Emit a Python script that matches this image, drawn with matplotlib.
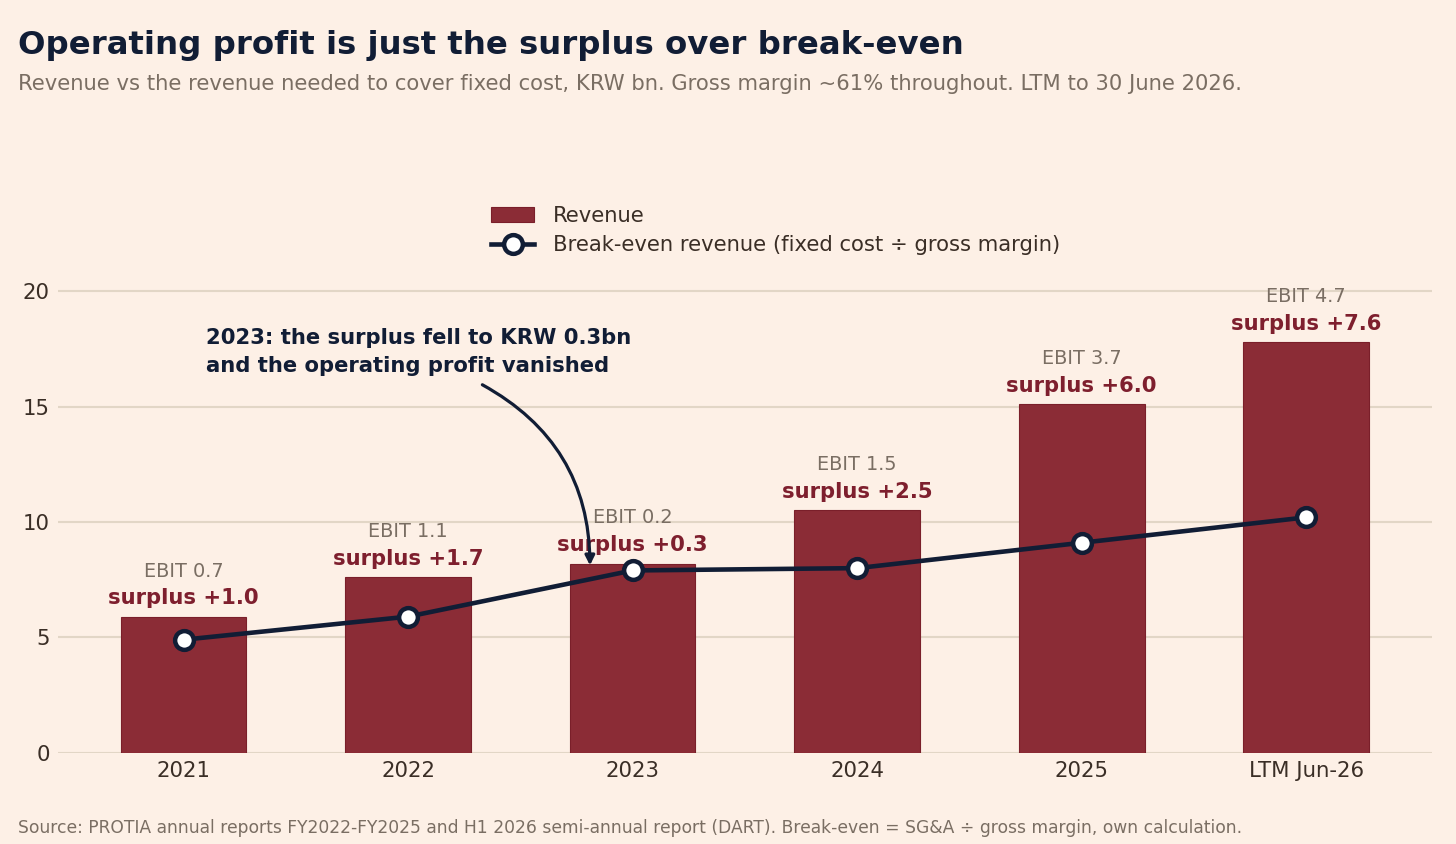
import matplotlib
matplotlib.use("Agg")
import matplotlib.pyplot as plt
import numpy as np

# values in KRW bn
periods = ["2021", "2022", "2023", "2024", "2025", "LTM Jun-26"]
revenue = [5.9, 7.6, 8.2, 10.5, 15.1, 17.8]
breakeven = [4.9, 5.9, 7.9, 8.0, 9.1, 10.2]
ebit = [0.7, 1.1, 0.2, 1.5, 3.7, 4.7]

BG = "#FDF0E6"
RED = "#8B2C36"
NAVY = "#111D35"
GREY = "#7A6E63"
DARK = "#3A2E26"
GRID = "#E2D6C6"

plt.rcParams["font.family"] = ["DejaVu Sans"]

fig = plt.figure(figsize=(14.56, 8.44), dpi=100, facecolor=BG)
ax = fig.add_axes([0.040, 0.108, 0.9432, 0.569])
ax.set_facecolor(BG)

x = np.arange(len(periods))
bars = ax.bar(x, revenue, width=0.56, color=RED, edgecolor="#7A1F2A", linewidth=0.8,
              label="Revenue", zorder=2)
line, = ax.plot(x, breakeven, color=NAVY, lw=3.3, marker="o", ms=13.5, mfc="white",
                mec=NAVY, mew=3.2, label="Break-even revenue (fixed cost \u00f7 gross margin)",
                zorder=4)

for xi, r, b, e in zip(x, revenue, breakeven, ebit):
    ax.annotate(f"surplus +{r - b:.1f}", (xi, r), xytext=(0, 6), textcoords="offset points",
                ha="center", va="bottom", fontsize=15.2, fontweight="bold", color="#7E1F2E",
                zorder=5)
    ax.annotate(f"EBIT {e:.1f}", (xi, r), xytext=(0, 26), textcoords="offset points",
                ha="center", va="bottom", fontsize=13.9, color=GREY, zorder=5)

ax.text(0.10, 18.4, "2023: the surplus fell to KRW 0.3bn\nand the operating profit vanished",
        ha="left", va="top", fontsize=15.2, fontweight="bold", color=NAVY, linespacing=1.5)
ax.annotate("", xy=(1.81, breakeven[2] + 0.1), xytext=(1.32, 16.0),
            arrowprops=dict(arrowstyle="-|>", color=NAVY, lw=2.3, mutation_scale=14,
                            connectionstyle="arc3,rad=-0.3"), zorder=6)

ax.set_xticks(x)
ax.set_xticklabels(periods)
ax.set_ylim(0, 20.8)
ax.set_yticks([0, 5, 10, 15, 20])
ax.yaxis.grid(True, color=GRID, lw=1.5, zorder=0)
ax.set_axisbelow(True)
ax.tick_params(axis="both", length=0, labelsize=15.3, labelcolor=DARK)
ax.tick_params(axis="y", pad=6)
ax.tick_params(axis="x", pad=6)
for s in ax.spines.values():
    s.set_visible(False)

fig.legend([bars, line], [bars.get_label(), line.get_label()], loc="upper left",
           bbox_to_anchor=(0.3245, 0.779), frameon=False, fontsize=15.2,
           labelcolor=DARK, handlelength=2.0, handletextpad=0.9, labelspacing=0.45)

fig.text(0.0124, 0.946, "Operating profit is just the surplus over break-even", fontsize=23.3,
         fontweight="bold", color=NAVY, ha="left", va="center")
fig.text(0.0124, 0.901, "Revenue vs the revenue needed to cover fixed cost, KRW bn. Gross margin ~61% throughout. LTM to 30 June 2026.",
         fontsize=15.2, color=GREY, ha="left", va="center")
fig.text(0.0124, 0.019, "Source: PROTIA annual reports FY2022-FY2025 and H1 2026 semi-annual report (DART). Break-even = SG&A \u00f7 gross margin, own calculation.",
         fontsize=12.3, color=GREY, ha="left", va="center")

fig.savefig("out.png", dpi=100, facecolor=BG)
